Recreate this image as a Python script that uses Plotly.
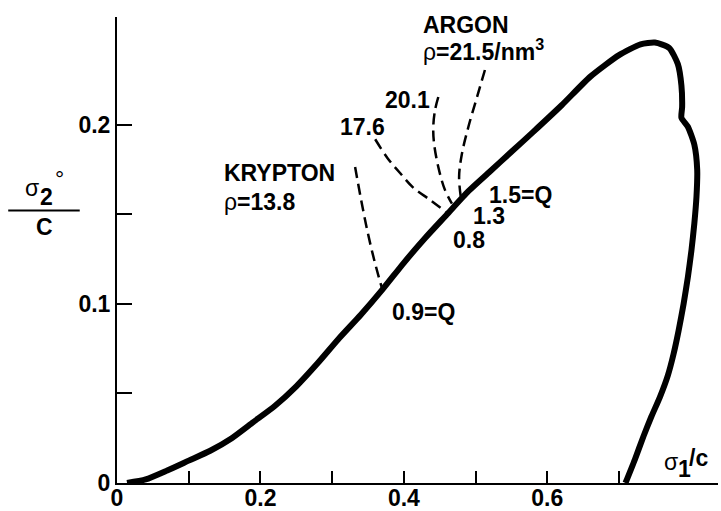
import plotly.graph_objects as go

# main envelope curve (sigma1/c, sigma2°/C)
curve_x = [0.014, 0.04, 0.07, 0.10, 0.13, 0.16, 0.19, 0.22, 0.25, 0.28, 0.31, 0.34, 0.37,
           0.40, 0.43, 0.46, 0.49, 0.52, 0.55, 0.58, 0.62, 0.66, 0.70, 0.73, 0.75, 0.77,
           0.782, 0.787, 0.788, 0.787, 0.796, 0.805, 0.809, 0.808, 0.805, 0.801, 0.796,
           0.790, 0.783, 0.776, 0.768, 0.757, 0.745, 0.734, 0.722, 0.709]
curve_y = [0.0, 0.002, 0.007, 0.0125, 0.018, 0.025, 0.034, 0.043, 0.054, 0.067, 0.081, 0.094, 0.108,
           0.123, 0.137, 0.150, 0.163, 0.174, 0.185, 0.196, 0.211, 0.227, 0.239, 0.245, 0.246, 0.243,
           0.234, 0.222, 0.210, 0.204, 0.199, 0.189, 0.175, 0.160, 0.145, 0.130, 0.115,
           0.100, 0.085, 0.072, 0.060, 0.048, 0.037, 0.026, 0.013, 0.0]

# dashed density curves
kr138_x = [0.332, 0.340, 0.349, 0.359, 0.370]
kr138_y = [0.1765, 0.159, 0.141, 0.124, 0.108]
ar176_x = [0.360, 0.377, 0.395, 0.413, 0.437, 0.460]
ar176_y = [0.192, 0.1816, 0.173, 0.165, 0.158, 0.151]
ar201_x = [0.448, 0.4435, 0.441, 0.442, 0.448, 0.457, 0.467]
ar201_y = [0.2156, 0.2084, 0.199, 0.190, 0.1765, 0.164, 0.156]
ar215_x = [0.513, 0.502, 0.490, 0.481, 0.477, 0.480]
ar215_y = [0.2307, 0.2156, 0.199, 0.184, 0.171, 0.158]

x_tickvals = [0, 0.1, 0.2, 0.3, 0.4, 0.5, 0.6, 0.7]
x_ticktext = ["0", "", "0.2", "", "0.4", "", "0.6", ""]
y_tickvals = [0, 0.05, 0.1, 0.15, 0.2]
y_ticktext = ["0", "", "0.1", "", "0.2"]

FONT = "Liberation Sans, Arial, Helvetica, sans-serif"
FS = 23

fig = go.Figure()
fig.add_trace(go.Scatter(x=curve_x, y=curve_y, mode="lines",
                         line=dict(color="black", width=6, shape="spline", smoothing=0.6)))
for xs, ys in [(kr138_x, kr138_y), (ar176_x, ar176_y), (ar201_x, ar201_y), (ar215_x, ar215_y)]:
    fig.add_trace(go.Scatter(x=xs, y=ys, mode="lines",
                             line=dict(color="black", width=2.5, dash="11px,6px", shape="spline")))

labels = [
    (0.424, 0.256, "<b>ARGON</b>"),
    (0.424, 0.242, "ρ<b>=21.5/nm<sup>3</sup></b>"),
    (0.371, 0.214, "<b>20.1</b>"),
    (0.308, 0.199, "<b>17.6</b>"),
    (0.146, 0.173, "<b>KRYPTON</b>"),
    (0.146, 0.157, "ρ<b>=13.8</b>"),
    (0.516, 0.161, "<b>1.5=Q</b>"),
    (0.494, 0.149, "<b>1.3</b>"),
    (0.466, 0.136, "<b>0.8</b>"),
    (0.380, 0.0955, "<b>0.9=Q</b>"),
]
for x, y, t in labels:
    fig.add_annotation(x=x, y=y, xref="x", yref="y", text=t, showarrow=False,
                       xanchor="left", yanchor="middle",
                       font=dict(family=FONT, size=FS, color="black"))

# x-axis title sigma_1/c
xt = [(0.760, 0.0117, "σ"), (0.779, 0.0080, "<b>1</b>"), (0.795, 0.0140, "<b>/c</b>")]
for x, y, t in xt:
    fig.add_annotation(x=x, y=y, xref="x", yref="y", text=t, showarrow=False,
                       xanchor="left", yanchor="middle",
                       font=dict(family=FONT, size=FS, color="black"))

# y-axis title as fraction: sigma_2° over C
yt = [(-0.141, 0.633, "σ"), (-0.118, 0.614, "<b>2</b>"), (-0.0965, 0.652, "°")]
for x, y, t in yt:
    fig.add_annotation(x=x, y=y, xref="paper", yref="paper", text=t, showarrow=False,
                       xanchor="center", yanchor="middle",
                       font=dict(family=FONT, size=FS, color="black"))
fig.add_annotation(x=-0.12, y=0.549, xref="paper", yref="paper",
                   text="<b>C</b>", showarrow=False,
                   xanchor="center", yanchor="middle",
                   font=dict(family=FONT, size=FS, color="black"))
fig.add_shape(type="line", xref="paper", yref="paper",
              x0=-0.181, x1=-0.062, y0=0.585, y1=0.585,
              line=dict(color="black", width=2))

fig.update_layout(
    width=721, height=511,
    margin=dict(l=117, r=3, t=17, b=28),
    paper_bgcolor="white", plot_bgcolor="white",
    showlegend=False,
    font=dict(family=FONT, size=FS, color="black"),
    xaxis=dict(range=[0, 0.838], showline=True, linecolor="black", linewidth=2,
               ticks="inside", ticklen=12, tickwidth=2, tickcolor="black",
               tickvals=x_tickvals, ticktext=x_ticktext, ticklabelstandoff=-7,
               tickfont=dict(family=FONT, size=FS, color="black", weight="bold"),
               showgrid=False, zeroline=False, automargin=False, fixedrange=True),
    yaxis=dict(range=[0, 0.2603], showline=True, linecolor="black", linewidth=2,
               ticks="inside", ticklen=15, tickwidth=2, tickcolor="black",
               tickvals=y_tickvals, ticktext=y_ticktext,
               tickfont=dict(family=FONT, size=FS, color="black", weight="bold"),
               showgrid=False, zeroline=False, automargin=False, fixedrange=True),
)

fig.write_html("out.html")
